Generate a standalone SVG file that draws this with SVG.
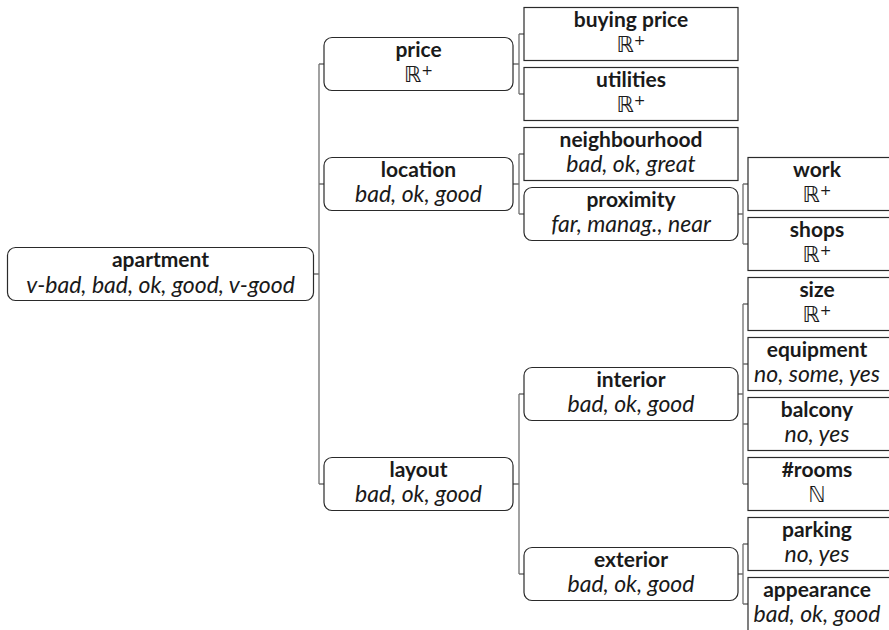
<svg xmlns="http://www.w3.org/2000/svg" width="889" height="630" viewBox="0 0 889 630">
<style>
.box{fill:#fff;stroke:#2a2a2a;stroke-width:1.2}
.conn{fill:none;stroke:#707070;stroke-width:1.3}
.n{font-family:Lato,"DejaVu Sans",sans-serif;font-weight:bold;font-size:21px;text-anchor:middle;fill:#1a1a1a}
.v{font-family:Lato,"DejaVu Sans",sans-serif;font-style:italic;font-size:23px;text-anchor:middle;fill:#1a1a1a}
.m{font-family:"DejaVu Sans",sans-serif;font-style:italic;font-size:22px;fill:#1a1a1a}
.sup{font-family:"DejaVu Sans",sans-serif;font-size:14px;font-weight:normal}
</style>
<rect width="889" height="630" fill="#fff"/>
<g id="connectors">
<path class="conn" d="M314 274H319M319 64V484M319 64H324M319 184H324M319 484H324"/>
<path class="conn" d="M513 64H519M519 34V94M519 34H524M519 94H524"/>
<path class="conn" d="M513 184H519M519 154V214M519 154H524M519 214H524"/>
<path class="conn" d="M513 484H519M519 394V574M519 394H524M519 574H524"/>
<path class="conn" d="M738 214H743M743 184V244M743 184H748M743 244H748"/>
<path class="conn" d="M738 394H743M743 304V484M743 304H748M743 364H748M743 424H748M743 484H748"/>
<path class="conn" d="M738 574H743M743 544V604M743 544H748M743 604H748"/>
</g>
<g id="apartment"><rect class="box" x="7.5" y="247.5" width="306" height="53" rx="8"/><text class="n" x="160.5" y="267">apartment</text><text class="v" x="160.5" y="293">v-bad, bad, ok, good, v-good</text></g>
<g id="price"><rect class="box" x="324" y="37.5" width="189" height="53" rx="8"/><text class="n" x="418.5" y="57">price</text><text class="v" x="418.5" y="82"><tspan class="m">ℝ</tspan><tspan class="sup" dy="-7">+</tspan></text></g>
<g id="location"><rect class="box" x="324" y="157.5" width="189" height="53" rx="8"/><text class="n" x="418.5" y="177">location</text><text class="v" x="418.5" y="202">bad, ok, good</text></g>
<g id="layout"><rect class="box" x="324" y="457.5" width="189" height="53" rx="8"/><text class="n" x="418.5" y="477">layout</text><text class="v" x="418.5" y="502">bad, ok, good</text></g>
<g id="buying-price"><rect class="box" x="524" y="7.5" width="214" height="53"/><text class="n" x="631" y="27">buying price</text><text class="v" x="631" y="52"><tspan class="m">ℝ</tspan><tspan class="sup" dy="-7">+</tspan></text></g>
<g id="utilities"><rect class="box" x="524" y="67.5" width="214" height="53"/><text class="n" x="631" y="87">utilities</text><text class="v" x="631" y="112"><tspan class="m">ℝ</tspan><tspan class="sup" dy="-7">+</tspan></text></g>
<g id="neighbourhood"><rect class="box" x="524" y="127.5" width="214" height="53"/><text class="n" x="631" y="147">neighbourhood</text><text class="v" x="631" y="172">bad, ok, great</text></g>
<g id="proximity"><rect class="box" x="524" y="187.5" width="214" height="53" rx="8"/><text class="n" x="631" y="207">proximity</text><text class="v" x="631" y="232">far, manag., near</text></g>
<g id="interior"><rect class="box" x="524" y="367.5" width="214" height="53" rx="8"/><text class="n" x="631" y="387">interior</text><text class="v" x="631" y="412">bad, ok, good</text></g>
<g id="exterior"><rect class="box" x="524" y="547.5" width="214" height="53" rx="8"/><text class="n" x="631" y="567">exterior</text><text class="v" x="631" y="592">bad, ok, good</text></g>
<g id="work"><rect class="box" x="748" y="157.5" width="146" height="53"/><text class="n" x="817" y="177">work</text><text class="v" x="817" y="202"><tspan class="m">ℝ</tspan><tspan class="sup" dy="-7">+</tspan></text></g>
<g id="shops"><rect class="box" x="748" y="217.5" width="146" height="53"/><text class="n" x="817" y="237">shops</text><text class="v" x="817" y="262"><tspan class="m">ℝ</tspan><tspan class="sup" dy="-7">+</tspan></text></g>
<g id="size"><rect class="box" x="748" y="277.5" width="146" height="53"/><text class="n" x="817" y="297">size</text><text class="v" x="817" y="322"><tspan class="m">ℝ</tspan><tspan class="sup" dy="-7">+</tspan></text></g>
<g id="equipment"><rect class="box" x="748" y="337.5" width="146" height="53"/><text class="n" x="817" y="357">equipment</text><text class="v" x="817" y="382">no, some, yes</text></g>
<g id="balcony"><rect class="box" x="748" y="397.5" width="146" height="53"/><text class="n" x="817" y="417">balcony</text><text class="v" x="817" y="442">no, yes</text></g>
<g id="rooms"><rect class="box" x="748" y="457.5" width="146" height="53"/><text class="n" x="817" y="477">#rooms</text><text class="v" x="817" y="502"><tspan class="m">ℕ</tspan></text></g>
<g id="parking"><rect class="box" x="748" y="517.5" width="146" height="53"/><text class="n" x="817" y="537">parking</text><text class="v" x="817" y="562">no, yes</text></g>
<g id="appearance"><rect class="box" x="748" y="577.5" width="146" height="60"/><text class="n" x="817" y="597">appearance</text><text class="v" x="817" y="622">bad, ok, good</text></g>
</svg>
